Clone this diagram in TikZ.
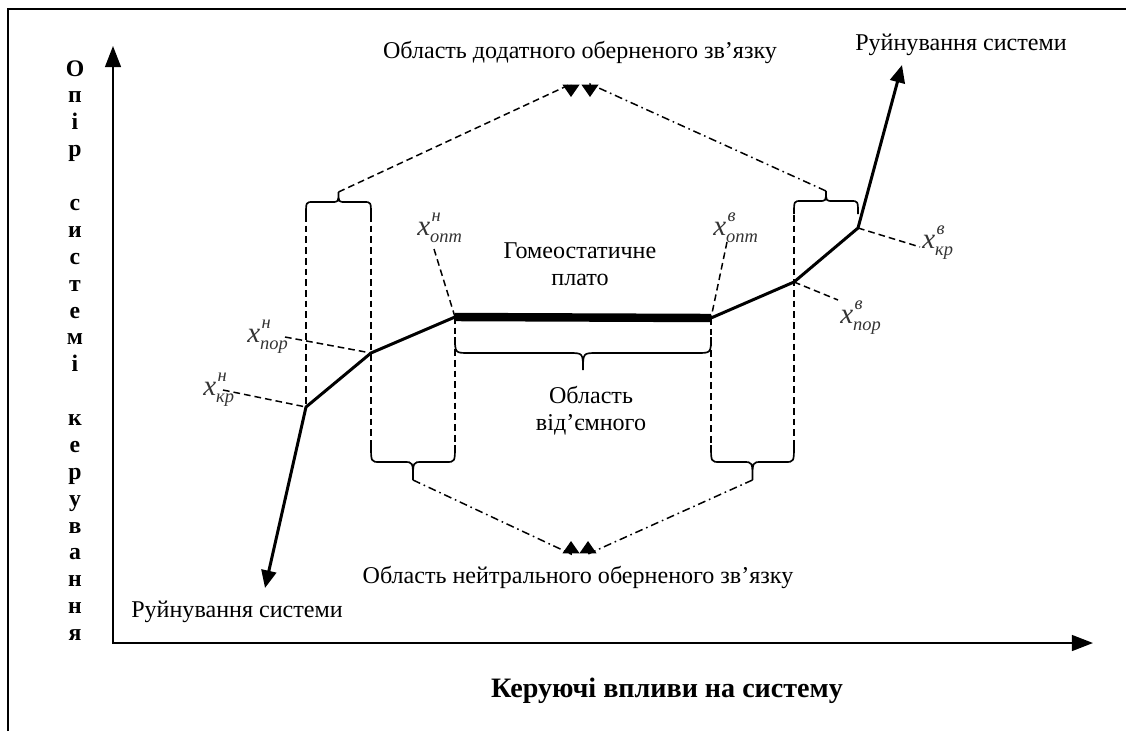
\documentclass[tikz,border=0pt]{standalone}
\usepackage{fontspec}
\setmainfont{Liberation Serif}
\usetikzlibrary{arrows.meta}
\newcommand\drawbrace[7]{%
 \draw[brc] ({#1},{#3+(#4)}) .. controls ({#1},{#3}) .. ({#1+#6},{#3})
   -- ({(#1+#2)/2-#6},{#3}) .. controls ({(#1+#2)/2},{#3}) .. ({(#1+#2)/2},{#3+(#5)}) coordinate (#7)
   .. controls ({(#1+#2)/2},{#3}) .. ({(#1+#2)/2+#6},{#3})
   -- ({#2-#6},{#3}) .. controls ({#2},{#3}) .. ({#2},{#3+(#4)});}
\newcommand\ptlabel[2]{\textit{x}\rlap{\hspace{0.8pt}\raisebox{7.5pt}{\fontsize{10.5}{10.5}\selectfont\textit{#1}}}\raisebox{-4pt}{\fontsize{10.5}{10.5}\selectfont\textit{#2}}}
\begin{document}
\begin{tikzpicture}[x=0.02cm,y=-0.02cm,
  txt/.style={font=\fontsize{13.7}{16}\selectfont, inner sep=0pt, anchor=base},
  vlab/.style={font=\fontsize{13.5}{15.3}\selectfont\bfseries, inner sep=0pt, align=center, anchor=north},
  xlab/.style={font=\fontsize{16.5}{16.5}\selectfont, text=black!80, inner sep=0pt, anchor=base west},
  axis/.style={line width=1.1pt, {Triangle[length=12pt,width=9pt]}-{Triangle[length=12pt,width=9pt]}},
  curve/.style={line width=1.7pt, line join=round, {Triangle[length=10pt,width=8.5pt]}-{Triangle[length=10pt,width=8.5pt]}},
  plateau/.style={line width=4.8pt},
  dsh/.style={line width=0.85pt, dash pattern=on 3.8pt off 2.3pt},
  dshdot/.style={line width=0.85pt, dash pattern=on 4.5pt off 2.2pt on 0.9pt off 2.2pt},
  brc/.style={line width=0.95pt},
  tip/.style={-{Triangle[length=7pt,width=9.5pt]}}
]
\useasboundingbox (0,0) rectangle (1126,731);
% frame
\draw[line width=1.1pt] (8,731) -- (8,9) -- (1126,9);

% axes
\coordinate (O) at (113,643);
\coordinate (Ytop) at (113,46);
\coordinate (Xend) at (1093,643);
\draw[axis] (Ytop) -- (O) -- (Xend);

% axis labels
\node[vlab] (ylab) at (75,60) {О\\п\\і\\р\\\mbox{}\\с\\и\\с\\т\\е\\м\\і\\\mbox{}\\к\\е\\р\\у\\в\\а\\н\\н\\я};
\node[txt, font=\fontsize{16}{18}\selectfont\bfseries] (xlabel) at (667,697) {Керуючі впливи на систему};

% curve points
\coordinate (a0) at (265,588);
\coordinate (kr1) at (306,407);
\coordinate (por1) at (371,353);
\coordinate (opt1) at (455,317);
\coordinate (opt2) at (711,318);
\coordinate (por2) at (794,282);
\coordinate (kr2) at (858,228);
\coordinate (a1) at (902,65);

% dashed verticals
\coordinate (v1t) at (306,215);
\coordinate (v2t) at (371,215);
\coordinate (v2b) at (371,445);
\coordinate (v3b) at (455,445);
\coordinate (v4b) at (711,445);
\coordinate (v5t) at (794,215);
\coordinate (v5b) at (794,445);
\draw[dsh] (v1t) -- (kr1);
\draw[dsh] (v2t) -- (v2b);
\draw[dsh] (opt1) -- (v3b);
\draw[dsh] (opt2) -- (v4b);
\draw[dsh] (v5t) -- (v5b);

% braces
\drawbrace{306}{371}{202}{13}{-10}{7}{tTL}
\drawbrace{794}{858}{201}{13}{-10}{7}{tTR}
\drawbrace{455}{711}{353}{-16}{17}{14}{tM}
\drawbrace{371}{455}{462}{-17}{18}{9}{tBL}
\drawbrace{711}{794}{462}{-17}{18}{9}{tBR}

% main curve
\draw[curve] (a0) -- (kr1) -- (por1) -- (opt1) -- (opt2) -- (por2) -- (kr2) -- (a1);
\draw[plateau] (opt1) -- (opt2);

% region connectors (arrowheads drawn vertically, as in the figure)
\coordinate (aT1a) at (571,84);
\coordinate (aT1) at (571,97);
\coordinate (aT2a) at (590,84);
\coordinate (aT2) at (590,97);
\coordinate (aB1a) at (571,554);
\coordinate (aB1) at (571,541);
\coordinate (aB2a) at (588,554);
\coordinate (aB2) at (588,541);
\draw[dsh, tip] (tTL) -- (aT1a) -- (aT1);
\draw[dshdot, tip] (tTR) -- (aT2a) -- (aT2);
\draw[dshdot, tip] (tBL) -- (aB1a) -- (aB1);
\draw[dshdot, tip] (tBR) -- (aB2a) -- (aB2);

% texts
\node[txt] (tpos) at (580,58) {Область додатного оберненого зв’язку};
\node[txt] (tneu) at (578,583) {Область нейтрального оберненого зв’язку};
\node[txt] (ruin1) at (961,50) {Руйнування системи};
\node[txt] (ruin2) at (237,617) {Руйнування системи};
\node[txt] (homeo1) at (580,258) {Гомеостатичне};
\node[txt] (homeo2) at (580,285) {плато};
\node[txt] (neg1) at (591,403) {Область};
\node[txt] (neg2) at (591,430) {від’ємного};

% point labels
\node[xlab] (lopt1) at (417,235) {\ptlabel{н}{опт}};
\node[xlab] (lopt2) at (713,235) {\ptlabel{в}{опт}};
\node[xlab] (lpor1) at (247,342) {\ptlabel{н}{пор}};
\node[xlab] (lkr1) at (203,395) {\ptlabel{н}{кр}};
\node[xlab] (lpor2) at (840,323) {\ptlabel{в}{пор}};
\node[xlab] (lkr2) at (922,248) {\ptlabel{в}{кр}};

\coordinate (e1) at (434,249);
\coordinate (e2) at (727,242);
\coordinate (e3) at (285,337);
\coordinate (e4) at (223,390);
\coordinate (e5) at (838,300);
\coordinate (e6) at (920,247);
\draw[dsh] (e1) -- (opt1);
\draw[dsh] (e2) -- (opt2);
\draw[dsh] (e3) -- (por1);
\draw[dsh] (e4) -- (kr1);
\draw[dsh] (por2) -- (e5);
\draw[dsh] (kr2) -- (e6);
\end{tikzpicture}
\end{document}
